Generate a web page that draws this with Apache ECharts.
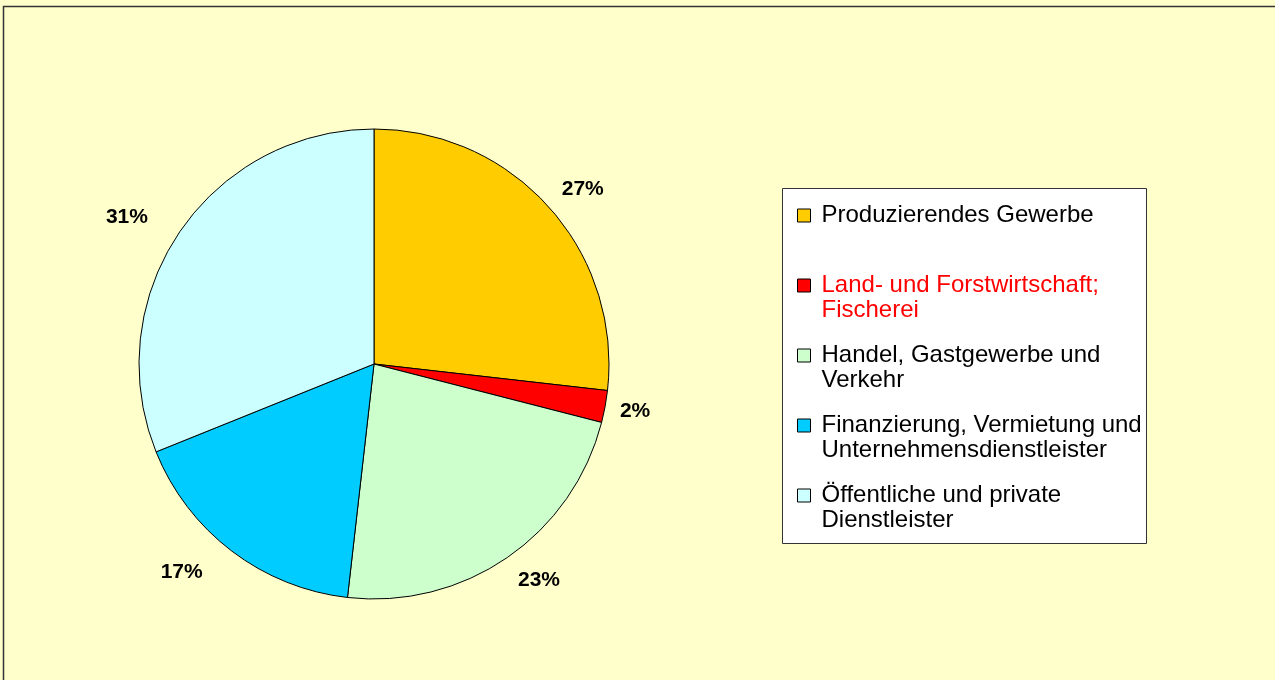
<!DOCTYPE html>
<html>
<head>
<meta charset="utf-8">
<title>Bruttowertschöpfung nach Wirtschaftsbereichen</title>
<script src="https://cdn.jsdelivr.net/npm/echarts@6/dist/echarts.min.js"></script>
<style>
  html, body { margin: 0; padding: 0; background: #ffffcc; }
  #chart { width: 1275px; height: 680px; }
</style>
</head>
<body>
<div id="chart"></div>
<script>
// Anteile in Prozent, im Uhrzeigersinn ab 12 Uhr
var categories = [
  'Produzierendes Gewerbe',
  'Land- und Forstwirtschaft; Fischerei',
  'Handel, Gastgewerbe und Verkehr',
  'Finanzierung, Vermietung und Unternehmensdienstleister',
  'Öffentliche und private Dienstleister'
]
// Umbruch wie in der Legende der Vorlage
var legendLines = [
  ['Produzierendes Gewerbe', ''],
  ['Land- und Forstwirtschaft;', 'Fischerei'],
  ['Handel, Gastgewerbe und', 'Verkehr'],
  ['Finanzierung, Vermietung und', 'Unternehmensdienstleister'],
  ['Öffentliche und private', 'Dienstleister']
]
var shares = [26.8, 2.2, 22.8, 17.1, 31.1]
var colors = ['#ffcc00', '#ff0000', '#ccffcc', '#00ccff', '#ccffff']
var legendTextColors = ['#000000', '#ff0000', '#000000', '#000000', '#000000']

var pieCenterX = 374
var pieCenterY = 364

var chart = echarts.init(document.getElementById('chart'))

var option = {
  backgroundColor: '#ffffcc',
  animation: false,
  color: colors,
  graphic: [
    {
      // Rahmen der Zeichenfläche
      type: 'rect',
      shape: { x: 3.5, y: 6.5, width: 1290, height: 700 },
      style: { fill: 'none', stroke: '#333333', lineWidth: 1.5 },
      silent: true
    },
    {
      // Legendenkasten
      type: 'rect',
      z: 0,
      shape: { x: 782.5, y: 188.5, width: 364, height: 355 },
      style: { fill: '#ffffff', stroke: '#333333', lineWidth: 1 },
      silent: true
    }
  ],
  legend: {
    orient: 'vertical',
    left: 797,
    top: 178,
    padding: 0,
    z: 5,
    itemGap: -5,
    itemWidth: 13,
    itemHeight: 13,
    icon: 'rect',
    itemStyle: { borderColor: '#000', borderWidth: 1 },
    textStyle: {
      fontFamily: 'Liberation Sans, Arial, sans-serif',
      fontSize: 24,
      lineHeight: 25,
      color: '#000',
      padding: [0, 0, 0, 6]
    },
    data: categories.map(function (name, i) {
      return { name: name, textStyle: { color: legendTextColors[i] } }
    }),
    formatter: function (name) {
      var l = legendLines[categories.indexOf(name)]
      // leere erste Zeile, damit das Kästchen auf Höhe der ersten Textzeile sitzt
      return '\n' + l[0] + '\n' + (l[1] || ' ')
    },
    selectedMode: false
  },
  series: [
    {
      type: 'pie',
      center: [pieCenterX, pieCenterY],
      radius: 235,
      startAngle: 90,
      clockwise: true,
      avoidLabelOverlap: false,
      itemStyle: { borderColor: '#000', borderWidth: 1 },
      label: {
        show: true,
        position: 'outside',
        formatter: function (p) { return Math.round(p.percent) + '%' },
        fontFamily: 'Liberation Sans, Arial, sans-serif',
        fontWeight: 'bold',
        fontSize: 21,
        color: '#000'
      },
      labelLine: { show: false, length: 10, length2: 0 },
      // Excel setzt die Beschriftungen etwas weiter nach außen
      labelLayout: function (params) {
        var r = params.labelRect
        var midY = r.y + r.height / 2
        var midX = r.x + r.width / 2
        return {
          dx: midX < pieCenterX ? -18 : 0,
          dy: (midY - pieCenterY) * 0.07
        }
      },
      emphasis: { disabled: true },
      data: categories.map(function (name, i) {
        return { name: name, value: shares[i] }
      })
    }
  ]
}

chart.setOption(option)
</script>
</body>
</html>
